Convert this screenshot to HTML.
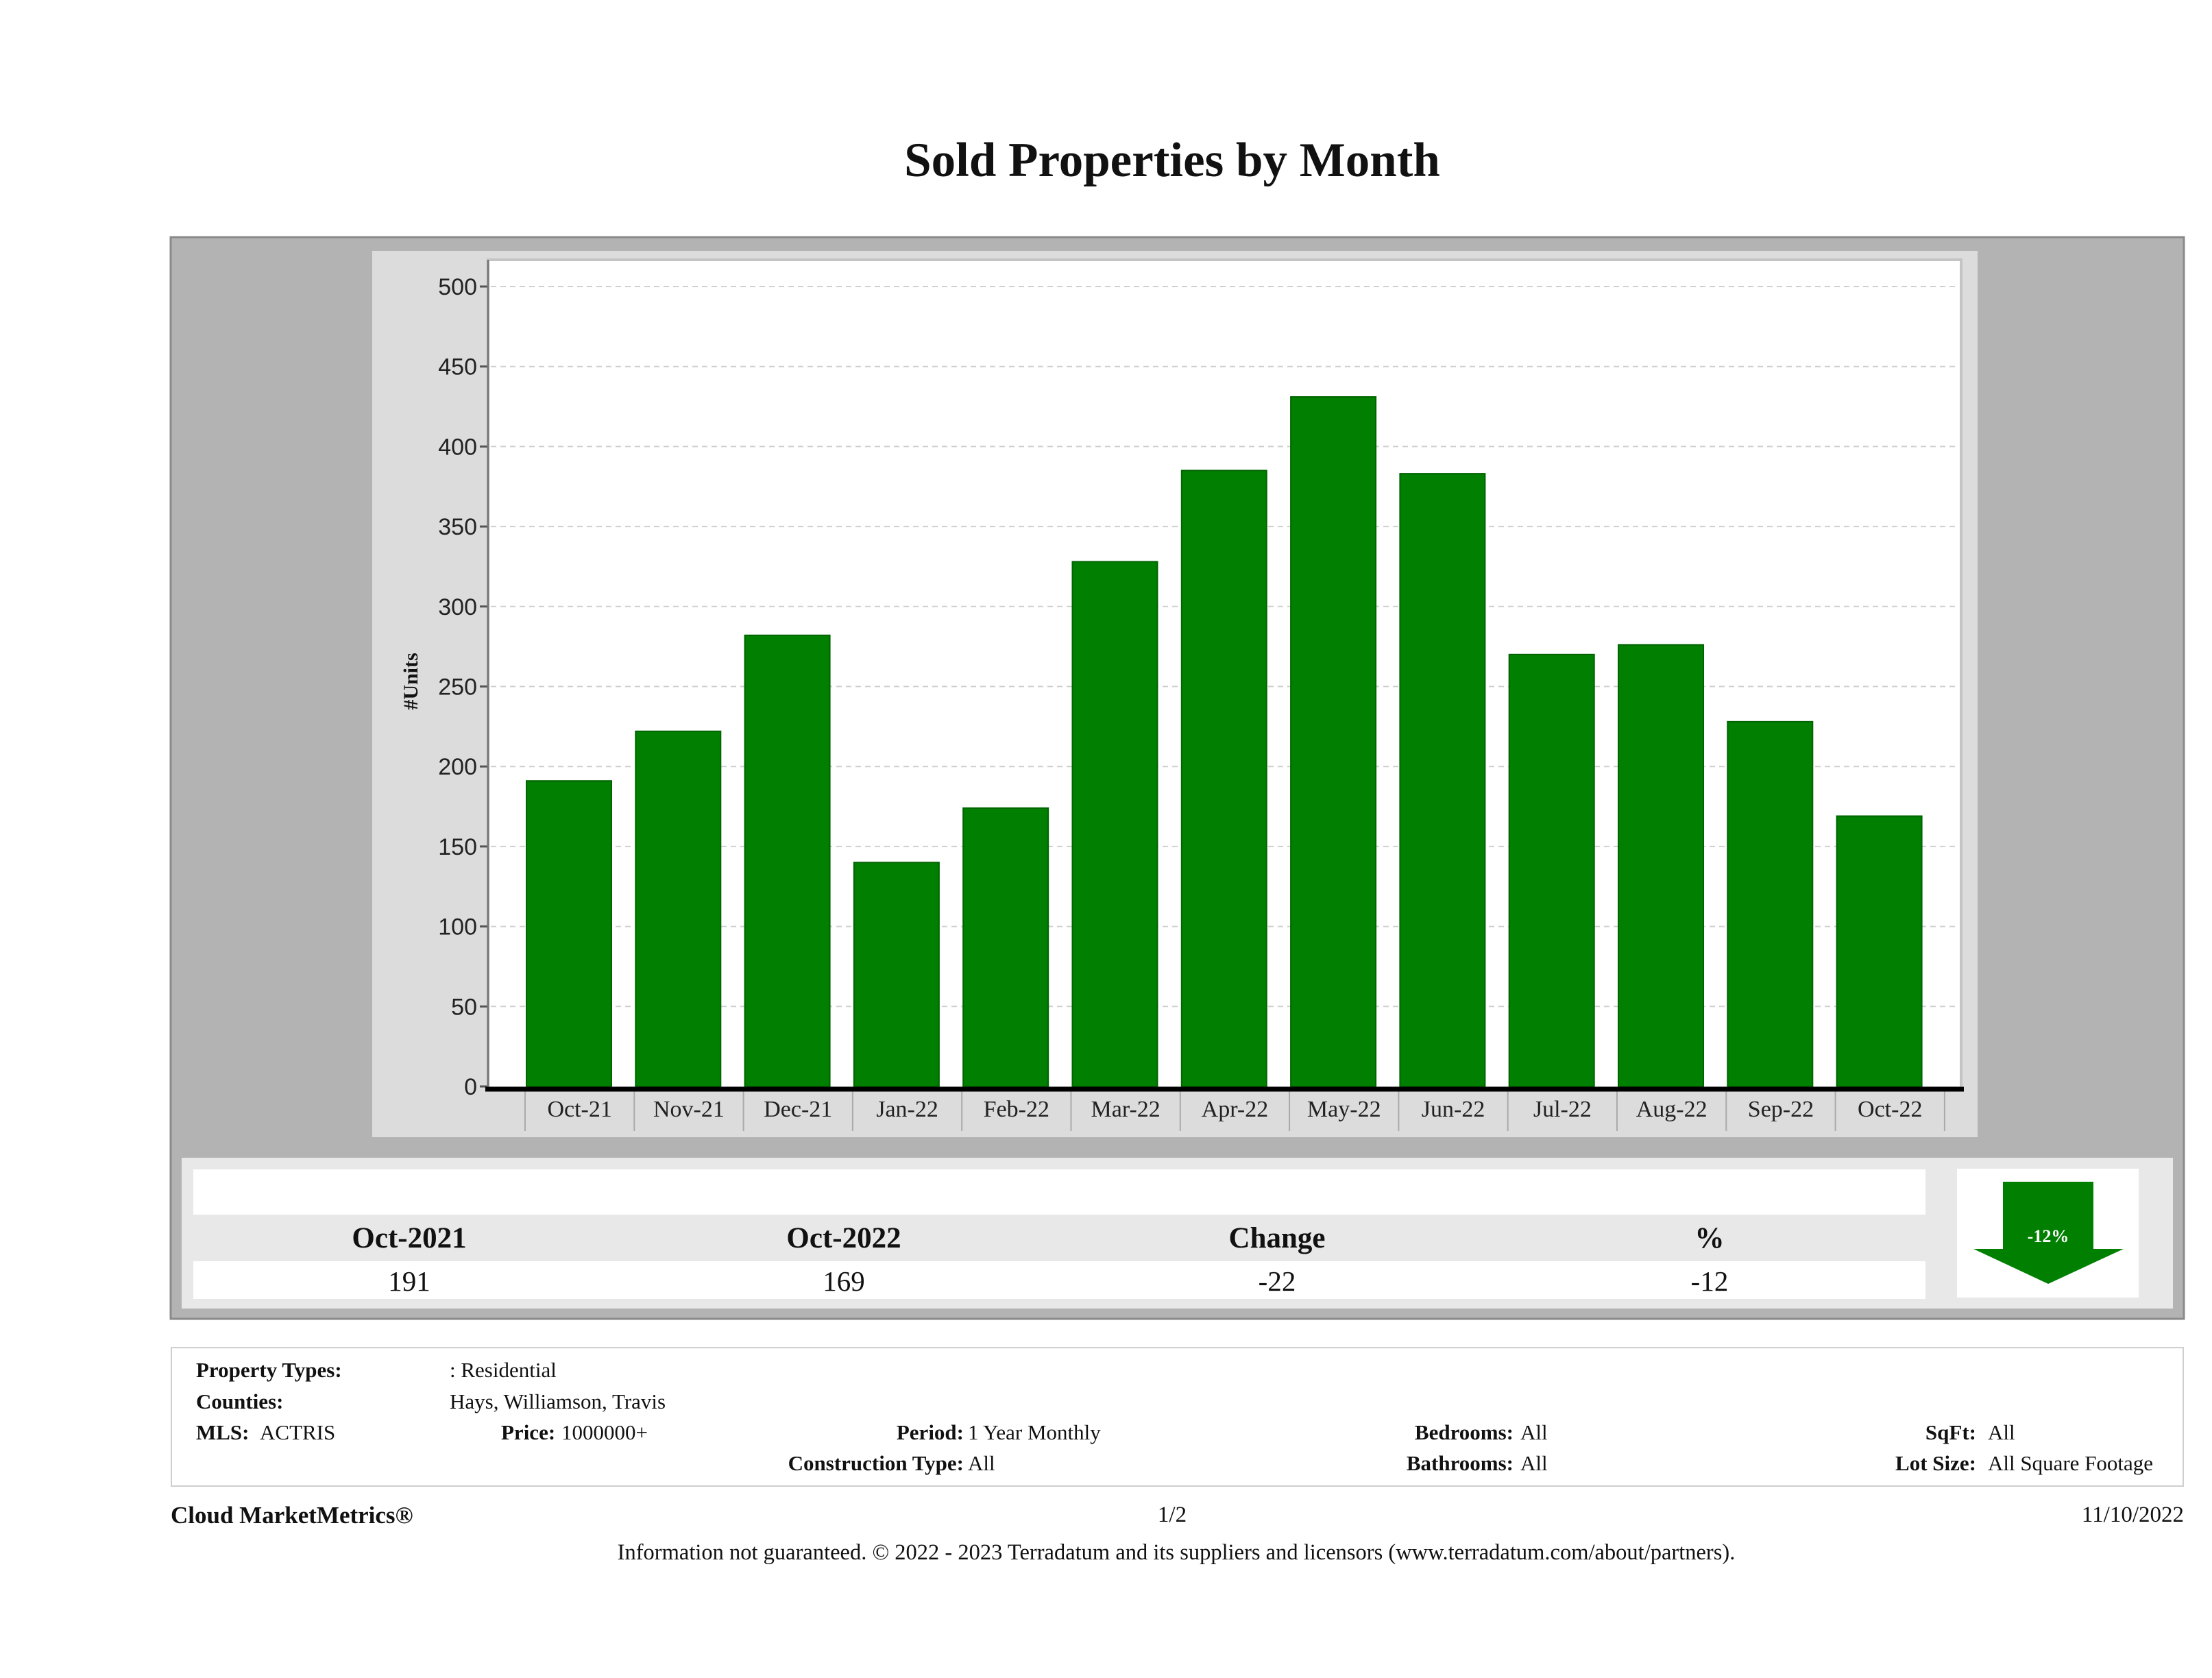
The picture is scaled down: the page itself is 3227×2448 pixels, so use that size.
<!DOCTYPE html>
<html><head><meta charset="utf-8"><style>
body{margin:0;background:#fff;}
#page{position:relative;width:3227px;height:2448px;overflow:hidden;background:#fff;font-family:"Liberation Serif",serif;color:#111;}
.t{position:absolute;white-space:nowrap;}
.b{font-weight:bold;}
</style></head><body>
<div id="page">
<div class="t b" style="left:0;width:3420px;top:194px;font-size:71px;text-align:center;">Sold Properties by Month</div>
<svg id="chart" width="3227" height="1930" style="position:absolute;left:0;top:0;font-family:'Liberation Serif',serif;">
<rect x="249" y="346" width="2937" height="1578" fill="#b3b3b3" stroke="#8a8a8a" stroke-width="3"/>
<rect x="543" y="366" width="2342" height="1293" fill="#dcdcdc"/>
<rect x="712" y="379" width="2149" height="1208" fill="#fff" stroke="#c4c4c4" stroke-width="4"/>
<g id="grid"></g><g id="bars"></g><g id="axes"></g>
<rect x="265" y="1689" width="2905" height="220" fill="#e8e8e8"/>
<rect x="282" y="1706" width="2527" height="66" fill="#fff"/>
<rect x="282" y="1840" width="2527" height="55" fill="#fff"/>
<rect x="2855" y="1705" width="265" height="188" fill="#fff"/>
<polygon points="2922,1724 3054,1724 3054,1822 3098,1822 2988,1873 2879,1822 2922,1822" fill="#007f00"/>
<text x="2988" y="1812" text-anchor="middle" font-size="26" font-weight="bold" fill="#fff">-12%</text>
</svg>
<div class="t b" style="left:447px;width:300px;text-align:center;top:1782px;font-size:43px;">Oct-2021</div>
<div class="t b" style="left:1081px;width:300px;text-align:center;top:1782px;font-size:43px;">Oct-2022</div>
<div class="t b" style="left:1713px;width:300px;text-align:center;top:1782px;font-size:43px;">Change</div>
<div class="t b" style="left:2344px;width:300px;text-align:center;top:1782px;font-size:43px;">%</div>
<div class="t" style="left:497px;width:200px;text-align:center;top:1845px;font-size:41px;">191</div>
<div class="t" style="left:1131px;width:200px;text-align:center;top:1845px;font-size:41px;">169</div>
<div class="t" style="left:1763px;width:200px;text-align:center;top:1845px;font-size:41px;">-22</div>
<div class="t" style="left:2394px;width:200px;text-align:center;top:1845px;font-size:41px;">-12</div>

<div style="position:absolute;left:249px;top:1965px;width:2933px;height:200px;border:2px solid #cfcfcf;"></div>
<div style="font-size:31px;">
<div class="t b" style="left:286px;top:1981px;">Property Types:</div>
<div class="t" style="left:656px;top:1981px;">: Residential</div>
<div class="t b" style="left:286px;top:2027px;">Counties:</div>
<div class="t" style="left:656px;top:2027px;">Hays, Williamson, Travis</div>
<div class="t b" style="left:286px;top:2072px;">MLS:</div>
<div class="t" style="left:379px;top:2072px;">ACTRIS</div>
<div class="t b" style="left:731px;top:2072px;">Price:</div>
<div class="t" style="left:819px;top:2072px;">1000000+</div>
<div class="t b" style="right:1821px;top:2072px;">Period:</div>
<div class="t" style="left:1412px;top:2072px;">1 Year Monthly</div>
<div class="t b" style="right:1821px;top:2117px;">Construction Type:</div>
<div class="t" style="left:1412px;top:2117px;">All</div>
<div class="t b" style="right:1019px;top:2072px;">Bedrooms:</div>
<div class="t" style="left:2218px;top:2072px;">All</div>
<div class="t b" style="right:1019px;top:2117px;">Bathrooms:</div>
<div class="t" style="left:2218px;top:2117px;">All</div>
<div class="t b" style="right:344px;top:2072px;">SqFt:</div>
<div class="t" style="left:2900px;top:2072px;">All</div>
<div class="t b" style="right:344px;top:2117px;">Lot Size:</div>
<div class="t" style="left:2900px;top:2117px;">All Square Footage</div>
</div>
<div class="t b" style="left:249px;top:2191px;font-size:35px;">Cloud MarketMetrics®</div>
<div class="t" style="left:1610px;width:200px;text-align:center;top:2192px;font-size:33px;">1/2</div>
<div class="t" style="right:41px;top:2192px;font-size:33px;">11/10/2022</div>
<div class="t" style="left:0;width:3432px;text-align:center;top:2247px;font-size:32.5px;">Information not guaranteed. © 2022 - 2023 Terradatum and its suppliers and licensors (www.terradatum.com/about/partners).</div>
</div>
<script>
const categories = ["Oct-21","Nov-21","Dec-21","Jan-22","Feb-22","Mar-22","Apr-22","May-22","Jun-22","Jul-22","Aug-22","Sep-22","Oct-22"];
const soldUnits = [191,222,282,140,174,328,385,431,383,270,276,228,169];
const yTicks = [0,50,100,150,200,250,300,350,400,450,500];

const NS="http://www.w3.org/2000/svg";
const y0=1585, pxPer=(1585-418)/500;
const bandStart=766, bandW=159.3, barW=124;
function yScale(v){return y0-v*pxPer;}
function xBand(i){return bandStart+i*bandW;}
function mk(tag,attrs,parent){const e=document.createElementNS(NS,tag);for(const k in attrs)e.setAttribute(k,attrs[k]);parent.appendChild(e);return e;}
const grid=document.getElementById('grid'),bars=document.getElementById('bars'),axes=document.getElementById('axes');
yTicks.forEach(v=>{
  const y=yScale(v);
  if(v>0){const g=mk('line',{x1:716,x2:2857,y1:y,y2:y,stroke:'#cfcfcf','stroke-width':2,'stroke-dasharray':'8,6'},grid);
  
  }
  const tk=mk('line',{x1:700,x2:712,y1:y,y2:y,stroke:'#555','stroke-width':3},axes);
  
  
  const t=mk('text',{x:696,y:y+12,'text-anchor':'end','font-size':34,fill:'#222','font-family':'Liberation Sans, sans-serif'},axes);
  t.textContent=v;
  
  
});
soldUnits.forEach((v,i)=>{
  const x=xBand(i)+2;
  const r=mk('rect',{x:x,y:yScale(v),width:barW,height:y0-yScale(v),fill:'#007f00',stroke:'#006400','stroke-width':2},bars);
  
  
});
categories.forEach((c,i)=>{
  const sx=xBand(i);
  const s=mk('line',{x1:sx,x2:sx,y1:1590,y2:1650,stroke:'#aaa','stroke-width':2},axes);
  
  
  const t=mk('text',{x:sx+bandW/2,y:1629,'text-anchor':'middle','font-size':34,fill:'#222'},axes);
  t.textContent=c;
  
  
});
const le=xBand(categories.length);
const ls=mk('line',{x1:le,x2:le,y1:1590,y2:1650,stroke:'#aaa','stroke-width':2},axes);


const ya=mk('line',{x1:712,x2:712,y1:379,y2:1589,stroke:'#777','stroke-width':3},axes);


const base=mk('line',{x1:708,x2:2865,y1:1589,y2:1589,stroke:'#000','stroke-width':7},axes);


const yl=mk('text',{x:0,y:0,transform:'translate(609,994) rotate(-90)','text-anchor':'middle','font-size':30,'font-weight':'bold',fill:'#111'},axes);
yl.textContent='#Units';


</script>
</body></html>
